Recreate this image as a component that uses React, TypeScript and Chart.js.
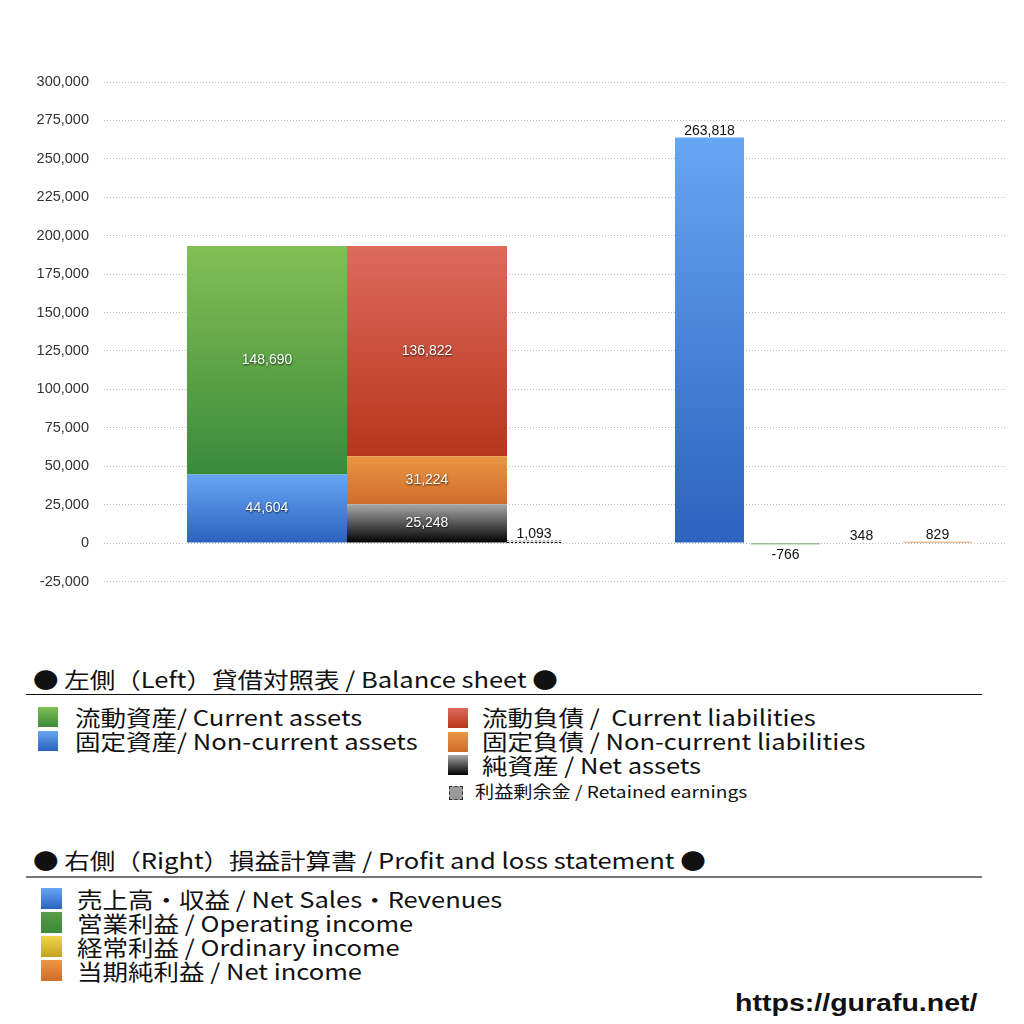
import React, { useEffect, useRef } from 'react';
import { Chart, registerables } from 'chart.js';

Chart.register(...registerables);

// ---- data ----
const balanceLabels = [
  '流動資産/ Current assets',
  '固定資産/ Non-current assets',
  '流動負債 /  Current liabilities',
  '固定負債 / Non-current liabilities',
  '純資産 / Net assets',
  '利益剰余金 / Retained earnings',
];
const balanceValues = [148690, 44604, 136822, 31224, 25248, 1093];

const plLabels = [
  '売上高・収益 / Net Sales・Revenues',
  '営業利益 / Operating income',
  '経常利益 / Ordinary income',
  '当期純利益 / Net income',
];
const plValues = [263818, -766, 348, 829];

const yMin = -25000;
const yMax = 300000;
const yStep = 25000;

// ---- layout (slot centres along the hidden x axis, in plot pixels) ----
const xSpan = 901;
const assetSlot = 163;
const liabilitySlot = 323;
const retainedSlot = 430;
const plSlots = [605.5, 681.5, 757.5, 833.5];
const wideRatio = 160 / 76;
const retainedRatio = 54 / 76;
const plRatio = 69 / 76;

// ---- styles ----
const green = ['#83c055', '#3a8a3b'];
const blue = ['#67a6f2', '#2b62be'];
const red = ['#de6a5c', '#b5361d'];
const orange = ['#ea9644', '#cf6c2b'];
const black = ['#a8a8a8', '#000000'];
const yellow = ['#f2d64a', '#c4a224'];
const plColors = [blue, ['#5a9a48', '#3a8a3b'], yellow, orange];
const stretch = 1.16;

const grad = (lo: number, hi: number, colors: string[]) => (c: any) => {
  const ys = c.chart.scales && c.chart.scales.y;
  if (!ys) return colors[1];
  const top = ys.getPixelForValue(Math.max(lo, hi));
  const bot = ys.getPixelForValue(Math.min(lo, hi));
  if (!isFinite(top) || !isFinite(bot) || Math.abs(bot - top) < 0.5) return colors[1];
  const g = c.chart.ctx.createLinearGradient(0, top, 0, bot);
  g.addColorStop(0, colors[0]);
  g.addColorStop(1, colors[1]);
  return g;
};

const seg = (label: string, value: number, x: number, lo: number, colors: string[], ratio: number, labelMode: string, extra: any = {}) => ({
  label,
  data: [{ x, y: value }],
  backgroundColor: grad(lo, lo + value, colors),
  borderWidth: 0,
  barPercentage: ratio,
  categoryPercentage: 1,
  grouped: false,
  labelMode,
  ...extra,
});

const valueLabels = {
  id: 'valueLabels',
  afterDatasetsDraw(chart: any) {
    const ctx = chart.ctx;
    chart.data.datasets.forEach((ds: any, i: number) => {
      const meta = chart.getDatasetMeta(i);
      meta.data.forEach((el: any, j: number) => {
        const v = ds.data[j].y;
        const text = v.toLocaleString('en-US');
        const { x, y, base, width } = el.getProps(['x', 'y', 'base', 'width'], true);
        ctx.save();
        if (ds.dashedOutline) {
          ctx.strokeStyle = '#111';
          ctx.lineWidth = 1;
          ctx.setLineDash([2, 2]);
          const l = Math.round(x - width / 2);
          const r = Math.round(x + width / 2);
          const b = Math.round(base) - 0.5;
          const t = Math.round(Math.min(y, base)) + 0.5;
          ctx.beginPath();
          ctx.moveTo(l, b);
          ctx.lineTo(r, b);
          ctx.stroke();
          ctx.strokeStyle = 'rgba(0,0,0,0.35)';
          ctx.beginPath();
          ctx.moveTo(l, t - 1);
          ctx.lineTo(r, t - 1);
          ctx.stroke();
          ctx.setLineDash([]);
        }
        ctx.font = '14px "Liberation Sans", Arial, sans-serif';
        ctx.textAlign = 'center';
        if (ds.labelMode === 'inside') {
          ctx.shadowColor = 'rgba(0,0,0,0.75)';
          ctx.shadowBlur = 2;
          ctx.shadowOffsetX = 0.5;
          ctx.shadowOffsetY = 1;
          ctx.fillStyle = '#ffffff';
          ctx.textBaseline = 'middle';
          ctx.fillText(text, x, (y + base) / 2);
        } else {
          ctx.fillStyle = '#111';
          if (v >= 0) {
            ctx.textBaseline = 'alphabetic';
            ctx.fillText(text, x, Math.min(y, base) - 3);
          } else {
            ctx.textBaseline = 'top';
            ctx.fillText(text, x, Math.max(y, base) + 4);
          }
        }
        ctx.restore();
      });
    });
  },
};

function ChartCanvas() {
  const ref = useRef<HTMLCanvasElement | null>(null);
  useEffect(() => {
    if (!ref.current) return;
    const [ca, nca, cl, ncl, na, re] = balanceValues;
    const datasets: any[] = [
      seg(balanceLabels[1], nca, assetSlot, 0, blue, wideRatio, 'inside'),
      seg(balanceLabels[0], ca, assetSlot, nca, green, wideRatio, 'inside'),
      seg(balanceLabels[4], na, liabilitySlot, 0, black, wideRatio, 'inside'),
      seg(balanceLabels[3], ncl, liabilitySlot, na, orange, wideRatio, 'inside'),
      seg(balanceLabels[2], cl, liabilitySlot, na + ncl, red, wideRatio, 'inside'),
      seg(balanceLabels[5], re, retainedSlot, 0, ['#bdbdbd', '#8a8a8a'], retainedRatio, 'outside', { dashedOutline: true }),
      ...plValues.map((v, k) => seg(plLabels[k], v, plSlots[k], 0, plColors[k], plRatio, 'outside')),
    ];
    const chart = new Chart(ref.current, {
      type: 'bar',
      data: { datasets },
      plugins: [valueLabels],
      options: {
        responsive: false,
        animation: false,
        devicePixelRatio: 1,
        layout: { padding: { top: 82, bottom: 38.5, left: 0, right: 19 } },
        plugins: { legend: { display: false }, tooltip: { enabled: false }, title: { display: false } },
        scales: {
          x: {
            type: 'linear',
            display: false,
            offset: false,
            min: 0,
            max: xSpan,
            ticks: { stepSize: 100 },
            grid: { display: false },
          },
          y: {
            stacked: true,
            min: yMin,
            max: yMax,
            afterFit: (s: any) => { s.width = 104; },
            ticks: {
              stepSize: yStep,
              padding: 15,
              color: '#333',
              font: { family: '"Liberation Sans", Arial, sans-serif', size: 14.5 },
              callback: (v: any) => Number(v).toLocaleString('en-US'),
            },
            grid: { color: '#bcbcbc', lineWidth: 1, drawTicks: false },
            border: { display: false, dash: [1, 2] },
          },
        },
      } as any,
    });
    return () => chart.destroy();
  }, []);
  return <canvas ref={ref} width={1024} height={620} style={{ position: 'absolute', left: 0, top: 0 }} />;
}

const cjk = '"Noto Sans CJK JP", "Noto Sans", sans-serif';

const Icon = ({ x, y, size, colors, dashed }: any) => (
  <div
    style={{
      position: 'absolute',
      left: x,
      top: y,
      width: size,
      height: size,
      boxSizing: 'border-box',
      background: dashed ? '#9a9a9a' : `linear-gradient(to bottom, ${colors[0]}, ${colors[1]})`,
      border: dashed ? '1px dashed #333' : 'none',
    }}
  />
);

const Txt = ({ x, y, size, children, lh }: any) => (
  <div
    style={{
      position: 'absolute',
      left: x,
      top: y,
      fontSize: size,
      lineHeight: `${lh}px`,
      whiteSpace: 'pre',
      fontFamily: cjk,
      color: '#111',
      transform: `scaleX(${stretch})`,
      transformOrigin: 'left center',
    }}
  >
    {children}
  </div>
);

export default function App() {
  const leftColors = [green, blue];
  const rightColors = [red, orange, black];
  return (
    <div style={{ position: 'absolute', left: 0, top: 0, width: 1024, height: 1024, background: '#fff', overflow: 'hidden' }}>
      <ChartCanvas />
      <Txt x={33} y={666} size={22} lh={24}>● 左側（Left）貸借対照表 / Balance sheet ●</Txt>
      <div style={{ position: 'absolute', left: 26, top: 694, width: 956, height: 1, background: '#111' }} />
      {[0, 1].map((k) => (
        <React.Fragment key={'l' + k}>
          <Icon x={38} y={707 + k * 24} size={20} colors={leftColors[k]} />
          <Txt x={75} y={704 + k * 24} size={22} lh={24}>{balanceLabels[k]}</Txt>
        </React.Fragment>
      ))}
      {[2, 3, 4].map((k, i) => (
        <React.Fragment key={'r' + k}>
          <Icon x={448} y={708 + i * 23.5} size={20} colors={rightColors[i]} />
          <Txt x={482} y={704 + i * 24} size={22} lh={24}>{balanceLabels[k]}</Txt>
        </React.Fragment>
      ))}
      <Icon x={449} y={786} size={14} dashed />
      <Txt x={475} y={781} size={16.5} lh={20}>{balanceLabels[5]}</Txt>

      <Txt x={33} y={847} size={22} lh={24}>● 右側（Right）損益計算書 / Profit and loss statement ●</Txt>
      <div style={{ position: 'absolute', left: 26, top: 876, width: 956, height: 1.5, background: '#777' }} />
      {plLabels.map((lab, k) => (
        <React.Fragment key={'p' + k}>
          <Icon x={41} y={888 + k * 24} size={21} colors={plColors[k]} />
          <Txt x={77} y={886 + k * 24} size={22} lh={24}>{lab}</Txt>
        </React.Fragment>
      ))}
      <div
        style={{
          position: 'absolute',
          right: 47,
          top: 990,
          fontFamily: '"Liberation Sans", Arial, sans-serif',
          fontWeight: 'bold',
          fontSize: 23,
          lineHeight: '26px',
          color: '#111',
          transform: 'scaleX(1.24)',
          transformOrigin: 'right center',
        }}
      >
        https://gurafu.net/
      </div>
    </div>
  );
}
